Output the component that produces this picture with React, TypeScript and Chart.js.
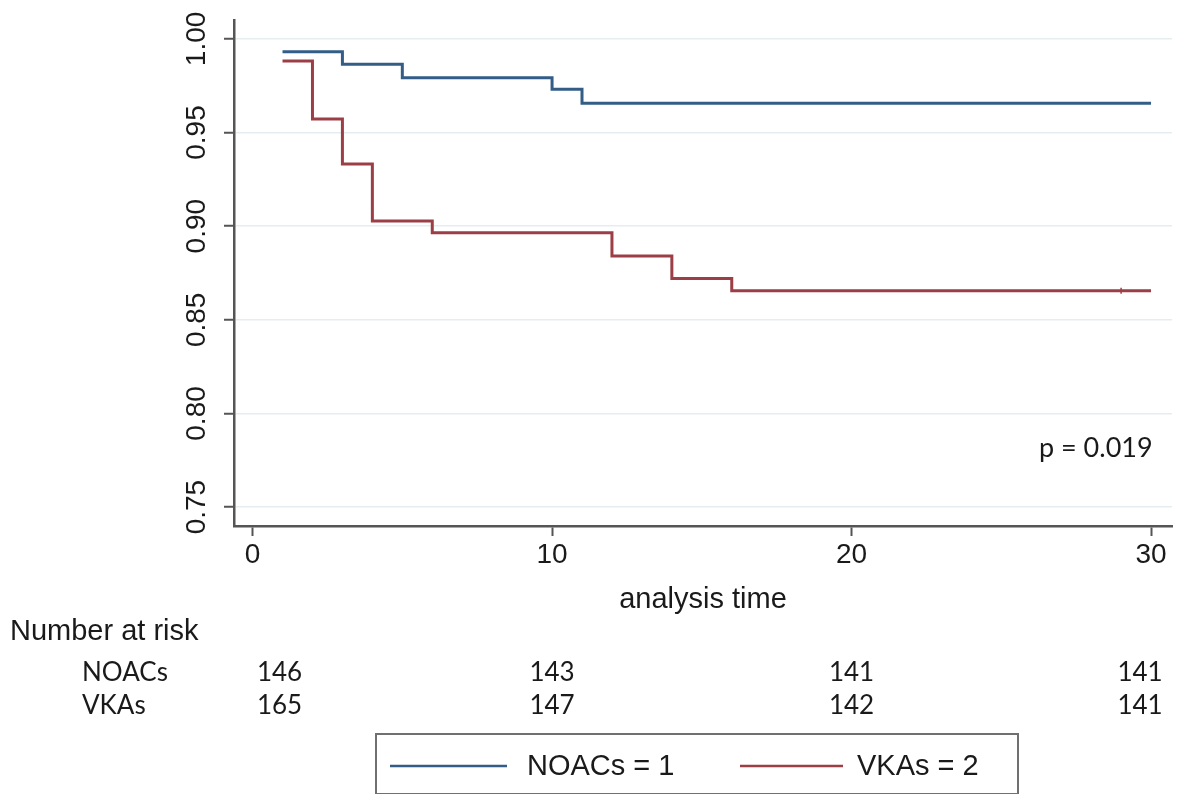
import React, { useEffect, useRef } from "react";
import { Chart, registerables } from "chart.js";

Chart.register(...registerables);

// ---- data ----
const noacTimes = [1, 3, 5, 10, 11, 30];
const noacSurv = [0.9932, 0.9865, 0.9793, 0.9731, 0.9657, 0.9657];
const vkaTimes = [1, 2, 3, 4, 6, 12, 14, 16, 30];
const vkaSurv = [0.9882, 0.9573, 0.9332, 0.9028, 0.8965, 0.8841, 0.872, 0.8655, 0.8655];
const vkaCensorTimes = [29];
const vkaCensorSurv = [0.8655];

const xTicks = [0, 10, 20, 30];
const yTicks = [0.75, 0.8, 0.85, 0.9, 0.95, 1.0];

const riskTimes = [0, 10, 20, 30];
const noacRisk = [146, 143, 141, 141];
const vkaRisk = [165, 147, 142, 141];
const groupNames = ["NOACs", "VKAs"];
const legendLabels = ["NOACs = 1", "VKAs = 2"];
const pText = "p = 0.019";
const xTitle = "analysis time";
const riskTitle = "Number at risk";

const BLUE = "#335d87";
const RED = "#9c3e46";
const AXIS = "#555555";
const GRID = "#e6edf1";
const TEXT = "#1a1a1a";
const SANS = "'Liberation Sans', Arial, sans-serif";
const CAL = "Lato, 'Open Sans', sans-serif";

const extras = {
  id: "extras",
  afterDraw(chart: any) {
    const ctx = chart.ctx as CanvasRenderingContext2D;
    const xs = chart.scales.x;
    const ys = chart.scales.y;
    const area = chart.chartArea;
    ctx.save();
    ctx.fillStyle = TEXT;

    // rotated y tick labels
    ctx.font = `28px ${SANS}`;
    ctx.textAlign = "center";
    ctx.textBaseline = "middle";
    yTicks.forEach((v) => {
      const py = ys.getPixelForValue(v);
      ctx.save();
      ctx.translate(197, py);
      ctx.rotate(-Math.PI / 2);
      ctx.fillText(v.toFixed(2), 0, 0);
      ctx.restore();
    });

    // x title
    ctx.font = `29px ${SANS}`;
    ctx.textAlign = "center";
    ctx.fillText(xTitle, (area.left + area.right) / 2, 600);

    // p value
    ctx.font = `27px ${CAL}`;
    ctx.textAlign = "left";
    ctx.fillText(pText, 1039, 448);

    // number at risk
    ctx.font = `29px ${SANS}`;
    ctx.textAlign = "left";
    ctx.fillText(riskTitle, 10, 632);
    ctx.font = `26px ${CAL}`;
    ctx.fillText(groupNames[0], 82, 673);
    ctx.fillText(groupNames[1], 82, 706);
    const offs = [27, 0, 0, -11];
    ctx.textAlign = "center";
    riskTimes.forEach((t, i) => {
      const px = xs.getPixelForValue(t) + offs[i];
      ctx.fillText(String(noacRisk[i]), px, 673);
      ctx.fillText(String(vkaRisk[i]), px, 706);
    });

    // legend box
    ctx.strokeStyle = "#707070";
    ctx.lineWidth = 2;
    ctx.strokeRect(376, 734, 642, 60);
    ctx.lineWidth = 2.5;
    ctx.strokeStyle = BLUE;
    ctx.beginPath();
    ctx.moveTo(390, 766);
    ctx.lineTo(507, 766);
    ctx.stroke();
    ctx.strokeStyle = RED;
    ctx.beginPath();
    ctx.moveTo(740, 766);
    ctx.lineTo(843, 766);
    ctx.stroke();
    ctx.font = `29px ${SANS}`;
    ctx.textAlign = "left";
    ctx.fillText(legendLabels[0], 527, 767);
    ctx.fillText(legendLabels[1], 857, 767);
    ctx.restore();
  },
};

export default function App() {
  const ref = useRef<HTMLCanvasElement | null>(null);
  useEffect(() => {
    if (!ref.current) return;
    const chart = new Chart(ref.current, {
      type: "line",
      data: {
        datasets: [
          {
            label: legendLabels[0],
            data: noacTimes.map((t, i) => ({ x: t, y: noacSurv[i] })),
            borderColor: BLUE,
            borderWidth: 3,
            stepped: "before",
            pointRadius: 0,
            fill: false,
          },
          {
            label: legendLabels[1],
            data: vkaTimes.map((t, i) => ({ x: t, y: vkaSurv[i] })),
            borderColor: RED,
            borderWidth: 3,
            stepped: "before",
            pointRadius: 0,
            fill: false,
          },
          {
            label: "censored",
            data: vkaCensorTimes.map((t, i) => ({ x: t, y: vkaCensorSurv[i] })),
            showLine: false,
            pointStyle: "line",
            rotation: 90,
            pointRadius: 3,
            borderColor: RED,
            borderWidth: 1.5,
          },
        ],
      },
      options: {
        responsive: false,
        animation: false,
        layout: { padding: { left: 0, right: 8, top: 20, bottom: 168 } },
        plugins: {
          legend: { display: false },
          tooltip: { enabled: false },
        },
        scales: {
          x: {
            type: "linear",
            min: -0.62,
            max: 30.7,
            afterFit: (s: any) => {
              s.height = 100;
            },
            afterBuildTicks: (s: any) => {
              s.ticks = xTicks.map((v) => ({ value: v }));
            },
            ticks: {
              color: TEXT,
              font: { family: SANS, size: 28 },
              padding: 2,
              maxRotation: 0,
              autoSkip: false,
            },
            grid: {
              drawOnChartArea: false,
              tickColor: AXIS,
              tickLength: 10,
              tickWidth: 2,
            },
            border: { color: AXIS, width: 2.5 },
          },
          y: {
            type: "linear",
            min: 0.7399,
            max: 1.0101,
            afterFit: (s: any) => {
              s.width = 234;
            },
            afterBuildTicks: (s: any) => {
              s.ticks = yTicks.map((v) => ({ value: v }));
            },
            ticks: { display: false },
            grid: {
              color: GRID,
              lineWidth: 1.5,
              tickColor: AXIS,
              tickLength: 10,
              tickWidth: 2,
            },
            border: { color: AXIS, width: 2.5 },
          },
        },
      },
      plugins: [extras],
    } as any);
    return () => chart.destroy();
  }, []);
  return (
    <div style={{ position: "fixed", left: 0, top: 0, width: 1180, height: 794, background: "#fff" }}>
      <canvas ref={ref} width={1180} height={794} style={{ width: 1180, height: 794, display: "block" }} />
    </div>
  );
}
